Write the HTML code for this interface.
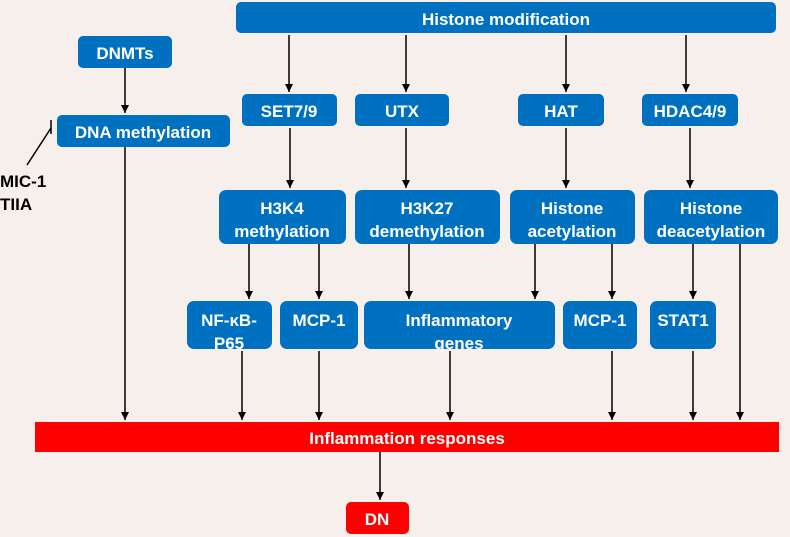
<!DOCTYPE html>
<html><head><meta charset="utf-8"><style>
body{margin:0;background:#f6efeb}
svg{display:block}
text{font-family:"Liberation Sans",sans-serif;font-weight:bold;fill:#fff;font-size:17px;text-anchor:middle}
</style></head><body>
<svg width="790" height="537" viewBox="0 0 790 537">
<defs><marker id="a" markerWidth="8" markerHeight="8" refX="8" refY="4" orient="auto" markerUnits="userSpaceOnUse"><path d="M0,0 L8,4 L0,8z" fill="#000"/></marker></defs>
<rect width="790" height="537" fill="#f6efeb"/>
<g fill="#0070c0">
<rect x="236" y="2" width="540" height="31" rx="5"/>
<rect x="78" y="36" width="94" height="32" rx="5"/>
<rect x="57" y="115" width="173" height="32" rx="5"/>
<rect x="242" y="94" width="95" height="32" rx="5"/>
<rect x="355" y="94" width="94" height="32" rx="5"/>
<rect x="518" y="94" width="86" height="32" rx="5"/>
<rect x="642" y="94" width="96" height="32" rx="5"/>
<rect x="219" y="190" width="127" height="54" rx="7"/>
<rect x="355" y="190" width="145" height="54" rx="7"/>
<rect x="510" y="190" width="125" height="54" rx="7"/>
<rect x="644" y="190" width="134" height="54" rx="7"/>
<rect x="187" y="301" width="85" height="48" rx="7"/>
<rect x="280" y="301" width="78" height="48" rx="7"/>
<rect x="364" y="301" width="191" height="48" rx="7"/>
<rect x="563" y="301" width="74" height="48" rx="7"/>
<rect x="650" y="301" width="66" height="48" rx="7"/>
</g>
<rect x="35" y="422" width="744" height="30" fill="#ff0000"/>
<rect x="346" y="502" width="63" height="32" rx="5" fill="#ff0000"/>
<g stroke="#000" stroke-width="1.5" marker-end="url(#a)">
<line x1="289" y1="35" x2="289" y2="92"/><line x1="406" y1="35" x2="406" y2="92"/>
<line x1="566" y1="35" x2="566" y2="92"/><line x1="686" y1="35" x2="686" y2="92"/>
<line x1="125" y1="68" x2="125" y2="113"/>
<line x1="290" y1="128" x2="290" y2="188"/><line x1="406" y1="128" x2="406" y2="188"/>
<line x1="566" y1="128" x2="566" y2="188"/><line x1="690" y1="128" x2="690" y2="188"/>
<line x1="249" y1="244" x2="249" y2="299"/><line x1="319" y1="244" x2="319" y2="299"/>
<line x1="409" y1="244" x2="409" y2="299"/><line x1="535" y1="244" x2="535" y2="299"/>
<line x1="612" y1="244" x2="612" y2="299"/><line x1="693" y1="244" x2="693" y2="299"/>
<line x1="125" y1="147" x2="125" y2="420"/><line x1="242" y1="351" x2="242" y2="420"/>
<line x1="319" y1="351" x2="319" y2="420"/><line x1="450" y1="351" x2="450" y2="420"/>
<line x1="612" y1="351" x2="612" y2="420"/><line x1="693" y1="351" x2="693" y2="420"/>
<line x1="740" y1="244" x2="740" y2="420"/><line x1="380" y1="452" x2="380" y2="500"/>
</g>
<g stroke="#000" stroke-width="1.5"><line x1="27" y1="165" x2="51" y2="128"/><line x1="51" y1="120" x2="51" y2="134"/></g>
<text x="506" y="25">Histone modification</text>
<text x="125" y="59">DNMTs</text>
<text x="143" y="138">DNA methylation</text>
<text x="289" y="117">SET7/9</text>
<text x="402" y="117">UTX</text>
<text x="561" y="117">HAT</text>
<text x="690" y="117">HDAC4/9</text>
<text x="282" y="214">H3K4</text><text x="282" y="237">methylation</text>
<text x="427" y="214">H3K27</text><text x="427" y="237">demethylation</text>
<text x="572" y="214">Histone</text><text x="572" y="237">acetylation</text>
<text x="711" y="214">Histone</text><text x="711" y="237">deacetylation</text>
<text x="229" y="326">NF-κB-</text><text x="229" y="349">P65</text>
<text x="319" y="326">MCP-1</text>
<text x="459" y="326">Inflammatory</text><text x="459" y="349">genes</text>
<text x="600" y="326">MCP-1</text>
<text x="683" y="326">STAT1</text>
<text x="407" y="444">Inflammation responses</text>
<text x="377" y="525">DN</text>
<text x="0" y="187" style="fill:#000;text-anchor:start">MIC-1</text>
<text x="0" y="210" style="fill:#000;text-anchor:start">TIIA</text>
</svg>
</body></html>
